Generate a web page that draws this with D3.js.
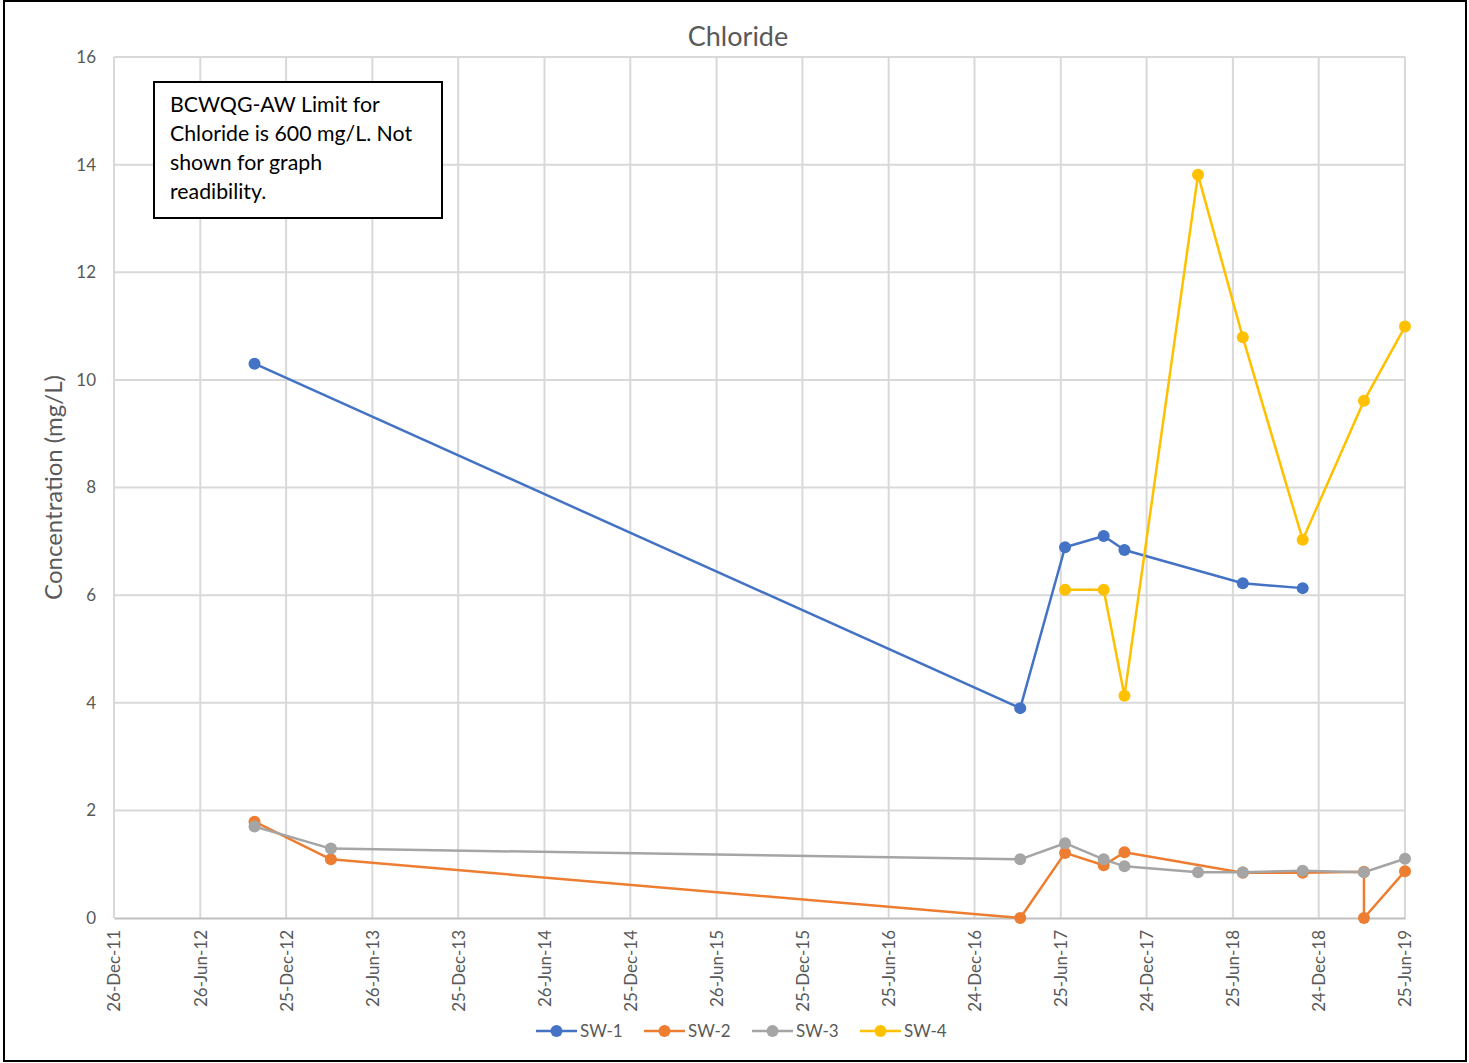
<!DOCTYPE html>
<html>
<head>
<meta charset="utf-8">
<script src="https://cdn.jsdelivr.net/npm/d3@7"></script>
<style>
  html, body { margin: 0; padding: 0; background: #fff; }
  svg text { font-family: Lato, "Open Sans", "Liberation Sans", sans-serif; }
</style>
</head>
<body>
<svg id="chart" width="1469" height="1063"></svg>
<script>
// Chloride concentrations (mg/L) by sampling date
const sw1Dates = ["2012-10-19", "2017-03-31", "2017-07-04", "2017-09-24", "2017-11-07", "2018-07-16", "2018-11-20"];
const sw1Values = [10.3, 3.9, 6.89, 7.1, 6.84, 6.22, 6.13];

const sw2Dates = ["2012-10-19", "2013-03-30", "2017-03-31", "2017-07-04", "2017-09-24", "2017-11-07", "2018-07-16", "2018-11-20", "2019-03-30", "2019-03-30", "2019-06-25"];
const sw2Values = [1.79, 1.09, 0, 1.21, 0.98, 1.22, 0.84, 0.84, 0.86, 0, 0.87];

const sw3Dates = ["2012-10-19", "2013-03-30", "2017-03-31", "2017-07-04", "2017-09-24", "2017-11-07", "2018-04-12", "2018-07-16", "2018-11-20", "2019-03-30", "2019-06-25"];
const sw3Values = [1.7, 1.29, 1.09, 1.39, 1.09, 0.96, 0.85, 0.85, 0.88, 0.85, 1.1];

const sw4Dates = ["2017-07-04", "2017-09-24", "2017-11-07", "2018-04-12", "2018-07-16", "2018-11-20", "2019-03-30", "2019-06-25"];
const sw4Values = [6.1, 6.1, 4.13, 13.81, 10.79, 7.03, 9.61, 10.99];

const seriesNames = ["SW-1", "SW-2", "SW-3", "SW-4"];
const seriesColors = ["#4472C4", "#ED7D31", "#A5A5A5", "#FFC000"];

const xTickLabels = ["26-Dec-11", "26-Jun-12", "25-Dec-12", "26-Jun-13", "25-Dec-13", "26-Jun-14", "25-Dec-14", "26-Jun-15",
  "25-Dec-15", "25-Jun-16", "24-Dec-16", "25-Jun-17", "24-Dec-17", "25-Jun-18", "24-Dec-18", "25-Jun-19"];
const yTicks = [0, 2, 4, 6, 8, 10, 12, 14, 16];

const noteLines = ["BCWQG-AW Limit for", "Chloride is 600 mg/L. Not", "shown for graph", "readibility."];

const parseISO = d3.timeParse("%Y-%m-%d");
const parseTick = d3.timeParse("%d-%b-%y");

const series = [
  [sw1Dates, sw1Values], [sw2Dates, sw2Values], [sw3Dates, sw3Values], [sw4Dates, sw4Values]
].map(([ds, vs], i) => ({
  name: seriesNames[i],
  color: seriesColors[i],
  points: ds.map((d, j) => ({ date: parseISO(d), value: vs[j] }))
}));

const tickDates = xTickLabels.map(parseTick);

const svg = d3.select("#chart");
const plot = { left: 114, right: 1405, top: 57, bottom: 918 };

// outer frame
svg.append("rect")
  .attr("x", 4).attr("y", 1).attr("width", 1462).attr("height", 1060)
  .attr("fill", "#fff").attr("stroke", "#000").attr("stroke-width", 2);

const x = d3.scaleTime()
  .domain([tickDates[0], tickDates[tickDates.length - 1]])
  .range([plot.left, plot.right]);

const y = d3.scaleLinear()
  .domain([0, 16])
  .range([plot.bottom, plot.top]);

// gridlines
const grid = svg.append("g");
grid.selectAll("line.h").data(yTicks.filter(v => v > 0)).join("line")
  .attr("x1", plot.left).attr("x2", plot.right)
  .attr("y1", d => y(d)).attr("y2", d => y(d))
  .attr("stroke", "#d9d9d9").attr("stroke-width", 2);
grid.selectAll("line.v").data(tickDates).join("line")
  .attr("x1", d => x(d)).attr("x2", d => x(d))
  .attr("y1", plot.top).attr("y2", plot.bottom)
  .attr("stroke", "#d9d9d9").attr("stroke-width", 2);

// x axis
const xAxis = svg.append("g")
  .attr("transform", `translate(0,${plot.bottom})`)
  .call(d3.axisBottom(x).tickValues(tickDates).tickSize(0).tickFormat(d3.timeFormat("%d-%b-%y")));
xAxis.select(".domain").attr("stroke", "#bfbfbf").attr("stroke-width", 2);
xAxis.selectAll("text")
  .attr("transform", "rotate(-90)")
  .attr("x", -12).attr("y", 0).attr("dy", "0.35em")
  .attr("text-anchor", "end")
  .attr("fill", "#595959")
  .style("font-size", "17px");

// y axis
const yAxis = svg.append("g")
  .attr("transform", `translate(${plot.left},0)`)
  .call(d3.axisLeft(y).tickValues(yTicks).tickSize(0).tickFormat(d3.format("d")));
yAxis.select(".domain").remove();
yAxis.selectAll("text")
  .attr("x", -18)
  .attr("fill", "#595959")
  .style("font-size", "17px");

// axis title
svg.append("text")
  .attr("transform", `translate(62,${(plot.top + plot.bottom) / 2}) rotate(-90)`)
  .attr("text-anchor", "middle")
  .attr("fill", "#595959")
  .style("font-size", "24px")
  .text("Concentration (mg/L)");

// chart title
svg.append("text")
  .attr("x", 738).attr("y", 46)
  .attr("text-anchor", "middle")
  .attr("fill", "#595959")
  .style("font-size", "27px")
  .text("Chloride");

// series lines and markers
const line = d3.line().x(d => x(d.date)).y(d => y(d.value));
series.forEach(s => {
  const g = svg.append("g");
  g.append("path")
    .datum(s.points)
    .attr("d", line)
    .attr("fill", "none")
    .attr("stroke", s.color)
    .attr("stroke-width", 2.5)
    .attr("stroke-linejoin", "round");
  g.selectAll("circle").data(s.points).join("circle")
    .attr("cx", d => x(d.date)).attr("cy", d => y(d.value))
    .attr("r", 6)
    .attr("fill", s.color);
});

// note box
const note = svg.append("g");
note.append("rect")
  .attr("x", 154).attr("y", 82).attr("width", 288).attr("height", 136)
  .attr("fill", "#fff").attr("stroke", "#000").attr("stroke-width", 2);
note.selectAll("text").data(noteLines).join("text")
  .attr("x", 170)
  .attr("y", (d, i) => 112 + i * 29)
  .attr("fill", "#000")
  .style("font-size", "21.3px")
  .text(d => d);

// legend
const legendX = [536, 644, 752, 860];
const legend = svg.append("g").attr("transform", "translate(0,1031)");
series.forEach((s, i) => {
  const g = legend.append("g").attr("transform", `translate(${legendX[i]},0)`);
  g.append("line").attr("x1", 0).attr("x2", 41).attr("y1", 0).attr("y2", 0)
    .attr("stroke", s.color).attr("stroke-width", 2.5);
  g.append("circle").attr("cx", 20.5).attr("cy", 0).attr("r", 6).attr("fill", s.color);
  g.append("text").attr("x", 44).attr("y", 0).attr("dy", "0.35em")
    .attr("fill", "#595959").style("font-size", "17px").text(s.name);
});
</script>
</body>
</html>
